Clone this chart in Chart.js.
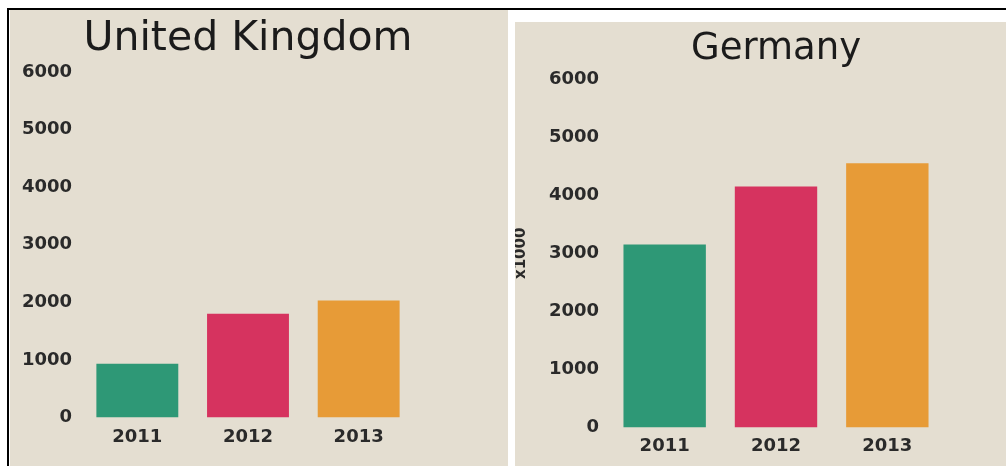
<!DOCTYPE html>
<html lang="en">
<head>
    <meta charset="UTF-8">
    <title>United Kingdom / Germany</title>
    <script src="https://cdn.jsdelivr.net/npm/chart.js"></script>
    <style>
        body {
            margin: 0;
            background: #ffffff;
            width: 1006px;
            height: 466px;
            overflow: hidden;
            position: relative;
        }
        .frame {
            position: absolute;
            left: 7px;
            top: 8px;
            right: 0;
            bottom: 0;
            border-top: 2px solid #000;
            border-left: 2px solid #000;
        }
        .panel {
            position: absolute;
            background: rgb(228, 222, 209);
        }
        #ukPanel { left: 10px; top: 10px; width: 498px; height: 456px; }
        #dePanel { left: 515px; top: 22px; width: 491px; height: 444px; }
    </style>
</head>
<body>
    <div class="frame"></div>
    <div class="panel" id="ukPanel"><canvas id="ukChart"></canvas></div>
    <div class="panel" id="dePanel"><canvas id="deChart"></canvas></div>

    <script>
        // Years and values per country
        const years = ['2011', '2012', '2013'];
        const ukValues = [930, 1800, 2030];
        const deValues = [3150, 4150, 4550];
        const barColors = ['rgb(46, 152, 118)', 'rgb(214, 51, 95)', 'rgb(231, 155, 55)'];
        const yMax = 6000;
        const yStep = 1000;

        const tickFont = { family: 'DejaVu Sans', size: 18, weight: 'bold' };
        const tickColor = '#2a2a2a';

        function makeChart(id, title, values, cfg) {
            return new Chart(document.getElementById(id), {
                type: 'bar',
                data: {
                    labels: years,
                    datasets: [{
                        data: values,
                        backgroundColor: barColors,
                        categoryPercentage: 0.74,
                        barPercentage: 1
                    }]
                },
                options: {
                    responsive: true,
                    maintainAspectRatio: false,
                    animation: false,
                    layout: {
                        padding: { left: 0, right: cfg.padRight, top: 0, bottom: cfg.padBottom }
                    },
                    plugins: {
                        legend: { display: false },
                        tooltip: { enabled: false },
                        title: {
                            display: true,
                            text: title,
                            fullSize: false,
                            color: '#1b1b1b',
                            font: { family: 'DejaVu Sans', size: cfg.titleSize, weight: 'normal' },
                            padding: { top: cfg.titleTop, bottom: cfg.titleBottom }
                        }
                    },
                    scales: {
                        x: {
                            grid: { display: false, drawTicks: false },
                            border: { display: false },
                            ticks: { color: tickColor, font: tickFont, padding: cfg.xPad }
                        },
                        y: {
                            min: 0,
                            max: yMax,
                            grid: { display: false, drawTicks: false },
                            border: { display: false },
                            ticks: {
                                stepSize: yStep,
                                color: tickColor,
                                font: tickFont,
                                padding: 10,
                                callback: (v) => String(v)   // plain numbers, no thousands separator
                            },
                            title: cfg.yTitle || { display: false },
                            afterFit: (scale) => { scale.width = cfg.axisWidth; }
                        }
                    }
                }
            });
        }

        makeChart('ukChart', 'United Kingdom', ukValues, {
            padRight: 94, padBottom: 9, titleSize: 41, titleTop: 4.5, titleBottom: 8.3,
            xPad: 9, axisWidth: 72
        });

        makeChart('deChart', 'Germany', deValues, {
            padRight: 63, padBottom: 1, titleSize: 37, titleTop: 5.5, titleBottom: 7.3,
            xPad: 8, axisWidth: 94,
            yTitle: {
                display: true,
                text: 'x1000',
                color: '#2a2a2a',
                font: { family: 'DejaVu Sans', size: 15, weight: 'bold', lineHeight: 0.8 },
                padding: { top: 0, bottom: 0 }
            }
        });
    </script>
</body>
</html>
